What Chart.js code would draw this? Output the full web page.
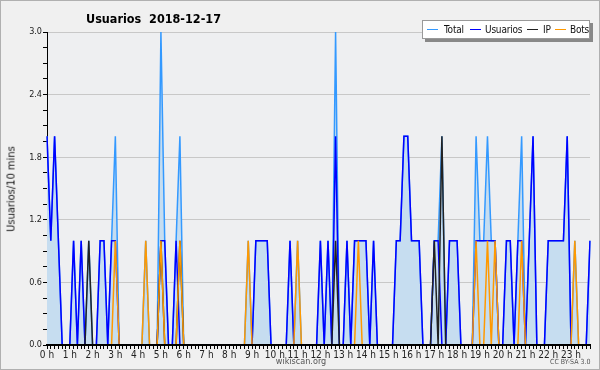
<!DOCTYPE html>
<html>
<head>
<meta charset="utf-8">
<script src="https://cdn.jsdelivr.net/npm/chart.js@4.4.1/dist/chart.umd.min.js"></script>
<style>
  html, body { margin: 0; padding: 0; background: #f0f0f0; }
  #wrap { position: relative; width: 600px; height: 370px; box-sizing: border-box; border: 1px solid #b0b0b0; overflow: hidden; font-family: "DejaVu Sans Condensed", "DejaVu Sans", sans-serif; font-stretch: condensed; }
  #chart { position: absolute; left: 0; top: 0; }
  .txt { position: absolute; white-space: nowrap; color: #000; }
  #title { left: 85px; top: 10px; font-size: 12.5px; font-weight: bold; }
  #ytitle { left: 10px; top: 188px; font-size: 11px; color: #111; transform: translate(-50%, -50%) rotate(-90deg); }
  #legend { position: absolute; left: 421px; top: 19px; width: 166px; height: 17px; background: #fff; border: 1px solid #999; box-shadow: 3px 3px 0 #888; font-size: 10px; letter-spacing: -0.2px; }
  .item { position: absolute; top: 1px; line-height: 15px; color: #111; }
  .sw { position: absolute; top: 8px; height: 1px; width: 11px; }
  #site { left: 0; width: 600px; text-align: center; top: 355px; font-size: 9px; color: #555; }
  #lic { left: 549px; top: 357px; font-size: 7px; color: #555; }
</style>
</head>
<body>
<div id="wrap">
  <canvas id="chart" width="600" height="370"></canvas>
  <div class="txt" id="title">Usuarios&nbsp;&nbsp;2018-12-17</div>
  <div class="txt" id="ytitle">Usuarios/10 mins</div>
  <div id="legend">
    <span class="sw" style="left:4px;background:#3399ff"></span><span class="item" style="left:21px">Total</span>
    <span class="sw" style="left:47px;background:#0000ff"></span><span class="item" style="left:62px">Usuarios</span>
    <span class="sw" style="left:104px;background:#222"></span><span class="item" style="left:120px">IP</span>
    <span class="sw" style="left:132px;background:#ff9900"></span><span class="item" style="left:147px">Bots</span>
  </div>
  <div class="txt" id="site">wikiscan.org</div>
  <div class="txt" id="lic">CC BY-SA 3.0</div>
</div>
<script>
// one slot per 10 minutes, 0h00 .. 23h50
const slots = [];
for (let h = 0; h < 24; h++) {
    for (let m = 0; m < 60; m += 10) slots.push(h + ':' + (m < 10 ? '0' : '') + m);
}
const hourLabels = ['0 h','1 h','2 h','3 h','4 h','5 h','6 h','7 h','8 h','9 h','10 h','11 h',
                    '12 h','13 h','14 h','15 h','16 h','17 h','18 h','19 h','20 h','21 h','22 h','23 h'];
const yTicks = [0, 0.6, 1.2, 1.8, 2.4, 3.0];

// each row = 2 hours (12 slots)
const total = [
    2,1,2,1,0,0, 0,1,0,1,0,1,
    0,0,1,1,0,1, 2,0,0,0,0,0,
    0,0,1,0,0,0, 3,1,0,0,1,2,
    0,0,0,0,0,0, 0,0,0,0,0,0,
    0,0,0,0,0,1, 0,1,1,1,1,0,
    0,0,0,0,1,0, 1,0,0,0,0,0,
    1,0,1,0,3,0, 0,1,0,1,1,1,
    1,0,1,0,0,0, 0,0,1,1,2,2,
    1,1,1,0,0,0, 1,1,2,0,1,1,
    1,0,0,0,0,2, 1,1,2,1,1,0,
    0,1,1,0,1,2, 0,1,2,0,0,0,
    1,1,1,1,1,2, 0,1,0,0,0,1
];
const usuarios = [
    2,1,2,1,0,0, 0,1,0,1,0,0,
    0,0,1,1,0,1, 1,0,0,0,0,0,
    0,0,0,0,0,0, 1,1,0,0,1,0,
    0,0,0,0,0,0, 0,0,0,0,0,0,
    0,0,0,0,0,0, 0,1,1,1,1,0,
    0,0,0,0,1,0, 0,0,0,0,0,0,
    1,0,1,0,2,0, 0,1,0,1,1,1,
    1,0,1,0,0,0, 0,0,1,1,2,2,
    1,1,1,0,0,0, 1,1,0,0,1,1,
    1,0,0,0,0,1, 1,1,1,1,1,0,
    0,1,1,0,1,1, 0,1,2,0,0,0,
    1,1,1,1,1,2, 0,0,0,0,0,1
];
const ip = [
    0,0,0,0,0,0, 0,0,0,0,0,1,
    0,0,0,0,0,0, 0,0,0,0,0,0,
    0,0,0,0,0,0, 1,0,0,0,0,1,
    0,0,0,0,0,0, 0,0,0,0,0,0,
    0,0,0,0,0,0, 0,0,0,0,0,0,
    0,0,0,0,0,0, 0,0,0,0,0,0,
    0,0,0,0,1,0, 0,0,0,0,0,0,
    0,0,0,0,0,0, 0,0,0,0,0,0,
    0,0,0,0,0,0, 1,0,2,0,0,0,
    0,0,0,0,0,0, 0,0,0,0,0,0,
    0,0,0,0,0,0, 0,0,0,0,0,0,
    0,0,0,0,0,0, 0,0,0,0,0,0
];
const bots = [
    0,0,0,0,0,0, 0,0,0,0,0,0,
    0,0,0,0,0,0, 1,0,0,0,0,0,
    0,0,1,0,0,0, 1,0,0,0,0,1,
    0,0,0,0,0,0, 0,0,0,0,0,0,
    0,0,0,0,0,1, 0,0,0,0,0,0,
    0,0,0,0,0,0, 1,0,0,0,0,0,
    0,0,0,0,0,0, 0,0,0,0,1,0,
    0,0,0,0,0,0, 0,0,0,0,0,0,
    0,0,0,0,0,0, 0,0,0,0,0,0,
    0,0,0,0,0,1, 0,0,1,0,1,0,
    0,0,0,0,0,1, 0,0,0,0,0,0,
    0,0,0,0,0,0, 0,1,0,0,0,0
];

// plot area background, and the x axis line drawn again over the series
const plotBg = {
    id: 'plotBg',
    beforeDraw(chart) {
        const a = chart.chartArea, c = chart.ctx;
        c.save();
        c.fillStyle = '#eeeff1';
        c.fillRect(a.left, a.top, a.right - a.left, a.bottom - a.top);
        c.restore();
    },
    afterDatasetsDraw(chart) {
        const a = chart.chartArea, c = chart.ctx;
        c.save();
        c.strokeStyle = '#000';
        c.lineWidth = 2;
        c.beginPath();
        c.moveTo(a.left - 1, a.bottom);
        c.lineTo(a.right + 1, a.bottom);
        c.stroke();
        c.restore();
    }
};

const isMajor = (v) => Math.abs(v / 0.6 - Math.round(v / 0.6)) < 1e-6;
const tickFont = { family: "'DejaVu Sans Condensed', 'DejaVu Sans'", size: 10 };

const line = (label, data, color, order, extra) => Object.assign({
    label, data, borderColor: color, borderWidth: 1.5,
    pointRadius: 0, tension: 0, fill: false, order
}, extra || {});

new Chart(document.getElementById('chart'), {
    type: 'line',
    data: {
        labels: slots,
        datasets: [
            line('Total', total, '#3399ff', 3, { fill: 'origin', backgroundColor: '#c6ddf0' }),
            line('Usuarios', usuarios, '#0000ff', 2),
            line('IP', ip, '#222222', 1),
            line('Bots', bots, '#ff9900', 0)
        ]
    },
    options: {
        responsive: false,
        animation: false,
        layout: { padding: { left: 0, right: 11, top: 31, bottom: 0 } },
        plugins: { legend: { display: false }, tooltip: { enabled: false } },
        scales: {
            x: {
                offset: false,
                border: { color: '#000', width: 1 },
                grid: { drawOnChartArea: false, drawTicks: true, tickLength: 4, color: '#000' },
                ticks: {
                    autoSkip: false, maxRotation: 0, padding: 0,
                    color: '#222', font: tickFont,
                    callback: (v, i) => (i % 6 === 0 ? hourLabels[i / 6] : '')
                },
                afterFit: (s) => { s.height = 26; }
            },
            y: {
                min: 0, max: 3,
                border: { color: '#000', width: 1 },
                grid: {
                    tickLength: 4, tickColor: '#000',
                    color: (ctx) => (ctx.tick && isMajor(ctx.tick.value) && ctx.tick.value > 0 ? '#c8c8c8' : 'rgba(0,0,0,0)')
                },
                ticks: {
                    stepSize: 0.15, autoSkip: false, padding: 1,
                    color: '#222', font: { family: tickFont.family, size: 9 },
                    callback: (v) => (isMajor(v) ? yTicks[Math.round(v / 0.6)].toFixed(1) : '')
                },
                afterFit: (s) => { s.width = 46; }
            }
        }
    },
    plugins: [plotBg]
});
</script>
</body>
</html>
